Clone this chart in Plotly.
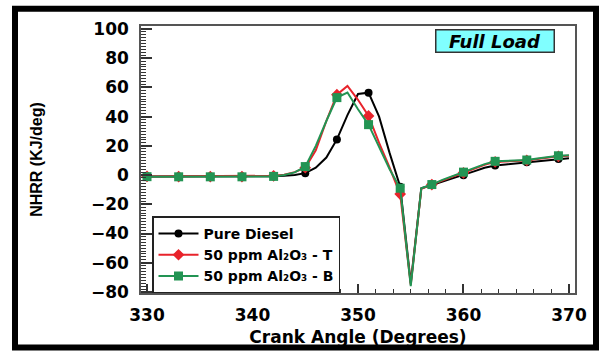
import plotly.graph_objects as go

# Crank angle (degrees) and net heat release rate (kJ/deg) for each fuel
crank_angle = list(range(330, 371))

pure_diesel = [-1.0, -1.0, -1.1, -1.2, -1.2, -1.2, -1.3, -1.3, -1.3, -1.2,
               -1.1, -1.0, -0.8, -0.5, 0.0, 1.3, 5.0, 12.0, 24.4, 41.0,
               55.5, 56.4, 40.0, 15.0, -8.0, -74.0, -9.0, -6.8, -4.5, -2.3,
               -0.2, 2.5, 5.0, 6.5, 7.3, 8.0, 8.7, 9.5, 10.3, 11.0, 11.5]

al2o3_t = [-0.9, -0.9, -0.9, -1.0, -1.0, -1.0, -1.0, -1.0, -1.0, -1.0,
           -0.9, -0.8, -0.5, 0.3, 2.0, 5.0, 17.0, 37.0, 55.0, 61.0,
           51.5, 40.5, 22.0, 5.0, -13.0, -75.0, -9.5, -6.5, -3.5, -1.0,
           1.5, 4.5, 7.0, 9.0, 9.3, 9.6, 10.0, 11.0, 12.0, 12.8, 13.2]

al2o3_b = [-1.1, -1.1, -1.1, -1.2, -1.2, -1.2, -1.2, -1.2, -1.2, -1.2,
           -1.1, -1.0, -0.9, 0.0, 1.8, 5.8, 20.0, 37.0, 53.0, 56.5,
           45.0, 34.5, 19.0, 4.0, -9.0, -76.0, -9.0, -6.5, -3.3, -0.5,
           2.0, 5.0, 7.5, 9.4, 9.7, 10.0, 10.3, 11.3, 12.3, 13.2, 13.6]

series_names = ["Pure Diesel",
                "50 ppm Al₂O₃ - T",
                "50 ppm Al₂O₃ - B"]
series_values = [pure_diesel, al2o3_t, al2o3_b]
series_colors = ["#000000", "#e8232b", "#229453"]
series_symbols = ["circle", "diamond", "square"]
series_sizes = [8, 9, 9]

MARK_STEP = 3  # a marker on every third crank-angle sample

fig = go.Figure()
for name, vals, col, sym, ms in zip(series_names, series_values, series_colors,
                                    series_symbols, series_sizes):
    fig.add_trace(go.Scatter(x=crank_angle, y=vals, mode="lines",
                             line=dict(color=col, width=2),
                             showlegend=False, hoverinfo="skip"))
    fig.add_trace(go.Scatter(x=crank_angle[::MARK_STEP], y=vals[::MARK_STEP],
                             mode="markers", name=name,
                             marker=dict(color=col, symbol=sym, size=ms),
                             showlegend=False))
    # legend entry (line + marker)
    fig.add_trace(go.Scatter(x=[None], y=[None], mode="lines+markers", name=name,
                             line=dict(color=col, width=2),
                             marker=dict(color=col, symbol=sym, size=ms)))

W, H = 599, 356
L, R, T, B = 141, 24, 26, 58
pw, ph = W - L - R, H - T - B


def px_x(px):
    return (px - L) / pw


def px_y(py):
    return (H - B - py) / ph


tick_font = dict(family="DejaVu Sans", size=17, color="black", weight="bold")

fig.update_layout(
    width=W, height=H,
    margin=dict(l=L, r=R, t=T, b=B),
    paper_bgcolor="white", plot_bgcolor="white",
    showlegend=True,
    legend=dict(x=px_x(152), y=px_y(220), xanchor="left", yanchor="top",
                bgcolor="white", bordercolor="#222", borderwidth=1.5,
                font=dict(family="DejaVu Sans", size=14, color="black", weight="bold"),
                traceorder="normal", itemwidth=40),
    xaxis=dict(range=[329.43, 370.57], tick0=330, dtick=10,
               ticks="inside", ticklen=9, tickwidth=1.5, tickcolor="#333",
               minor=dict(dtick=10 / 6, ticks="inside", ticklen=4,
                          tickwidth=1, tickcolor="#333"),
               showline=True, mirror=True, linecolor="#555", linewidth=1.5,
               showgrid=False, zeroline=False,
               tickfont=tick_font, ticklabelstandoff=6,
               title=dict(text="Crank Angle (Degrees)", standoff=7,
                          font=dict(family="DejaVu Sans", size=17, color="black",
                                    weight="bold"))),
    yaxis=dict(range=[-80.7, 102], tick0=0, dtick=20,
               ticks="inside", ticklen=11, tickwidth=1.5, tickcolor="#333",
               minor=dict(dtick=2, ticks="inside", ticklen=5,
                          tickwidth=1, tickcolor="#333"),
               showline=True, mirror=True, linecolor="#555", linewidth=1.5,
               showgrid=False, zeroline=False,
               tickfont=tick_font, ticklabelstandoff=7,
               title=dict(text="NHRR (KJ/deg)", standoff=44,
                          font=dict(family="Liberation Sans", size=16, color="black",
                                    weight="bold"))),
    annotations=[dict(
        x=px_x(494.5), y=px_y(41.5), xref="paper", yref="paper",
        xanchor="center", yanchor="middle", showarrow=False,
        text="Full Load", width=115, height=19,
        font=dict(family="DejaVu Sans", size=18, color="black",
                  weight="bold", style="italic"),
        bgcolor="#80ffff", bordercolor="#333", borderwidth=1.5, borderpad=1,
    )],
    shapes=[dict(
        type="rect", xref="paper", yref="paper", layer="above",
        x0=px_x(15), x1=px_x(596), y0=px_y(353.5), y1=px_y(8.5),
        line=dict(color="black", width=6), fillcolor="rgba(0,0,0,0)",
    )],
)

fig.write_html("out.html")
